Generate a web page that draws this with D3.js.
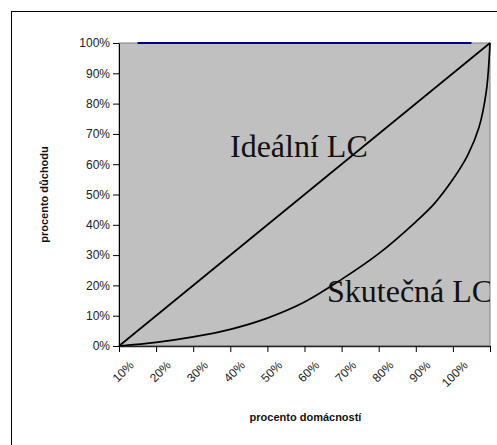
<!DOCTYPE html>
<html>
<head>
<meta charset="utf-8">
<script src="https://cdn.jsdelivr.net/npm/d3@7"></script>
<style>
  body { margin: 0; background: #fff; }
  svg { display: block; }
  .axis text { font-family: Arial, "Liberation Sans", sans-serif; font-size: 12px; fill: #222; }
  .title { font-family: Arial, "Liberation Sans", sans-serif; font-size: 11px; font-weight: bold; fill: #111; }
  .note { font-family: "Times New Roman", "Liberation Serif", serif; font-size: 32px; fill: #111; }
</style>
</head>
<body>
<svg id="chart" width="497" height="445"></svg>
<script>
// categories on the x axis (households) and the flat series at 100 %
const categories = ['10%', '20%', '30%', '40%', '50%', '60%', '70%', '80%', '90%', '100%'];
const topSeries = [1, 1, 1, 1, 1, 1, 1, 1, 1, 1];
const yTicks = [0, 0.1, 0.2, 0.3, 0.4, 0.5, 0.6, 0.7, 0.8, 0.9, 1];
const xTicks = [0, 0.1, 0.2, 0.3, 0.4, 0.5, 0.6, 0.7, 0.8, 0.9, 1];

// ideal Lorenz curve (equality line)
const idealX = [0, 1];
const idealY = [0, 1];

const actualX = [0, 0.1, 0.2, 0.3, 0.4, 0.5, 0.6, 0.7, 0.8, 0.85, 0.9, 0.94, 0.97, 0.99, 1];
const actualY = [0, 0.012, 0.03, 0.055, 0.092, 0.145, 0.22, 0.305, 0.41, 0.47, 0.55, 0.63, 0.72, 0.84, 1];

const svg = d3.select('#chart');
const plot = {left: 119, right: 490, top: 43, bottom: 346};

const x = d3.scaleLinear().domain([0, 1]).range([plot.left, plot.right]);
const xBand = d3.scaleBand().domain(categories).range([plot.left, plot.right]);
const y = d3.scaleLinear().domain([0, 1]).range([plot.bottom, plot.top]);

// chart area frame (right and bottom edges fall outside the picture)
svg.append('rect')
    .attr('x', 11.5).attr('y', 11.5)
    .attr('width', 600).attr('height', 600)
    .attr('fill', 'none').attr('stroke', '#000');

// plot area
svg.append('rect')
    .attr('x', plot.left).attr('y', plot.top)
    .attr('width', plot.right - plot.left).attr('height', plot.bottom - plot.top)
    .attr('fill', '#c0c0c0').attr('stroke', '#808080');

svg.append('clipPath').attr('id', 'clip')
  .append('rect')
    .attr('x', plot.left).attr('y', plot.top - 2)
    .attr('width', plot.right - plot.left).attr('height', plot.bottom - plot.top + 4);

// y axis
const yAxis = svg.append('g')
    .attr('class', 'axis')
    .attr('transform', `translate(${plot.left},0)`)
    .call(d3.axisLeft(y).tickValues(yTicks).tickFormat(d3.format('.0%')).tickSize(6).tickSizeOuter(0));
yAxis.select('.domain').attr('stroke', '#000');
yAxis.selectAll('.tick line').attr('stroke', '#000');
yAxis.selectAll('.tick text').attr('x', -9);

// x axis: ticks on category boundaries, labels in the middle of each category
const xAxis = svg.append('g')
    .attr('class', 'axis')
    .attr('transform', `translate(0,${plot.bottom})`)
    .call(d3.axisBottom(x).tickValues(xTicks).tickFormat('').tickSize(6).tickSizeOuter(0));
xAxis.select('.domain').attr('stroke', '#222').attr('stroke-width', 1.5);
xAxis.selectAll('.tick line').attr('stroke', '#000');

svg.append('g')
    .attr('class', 'axis')
  .selectAll('text')
  .data(categories)
  .join('text')
    .attr('text-anchor', 'end')
    .attr('transform', d => `translate(${xBand(d) + xBand.bandwidth() / 2 - 3},${plot.bottom + 20}) rotate(-45)`)
    .text(d => d);

// flat series at 100 %
const topLine = d3.line()
    .x((d, i) => xBand(categories[i]) + xBand.bandwidth() / 2)
    .y(d => y(d));
svg.append('path')
    .attr('d', topLine(topSeries))
    .attr('fill', 'none')
    .attr('stroke', '#000080')
    .attr('stroke-width', 2);

// Lorenz curves
const curve = d3.line()
    .x(d => x(d[0]))
    .y(d => y(d[1]))
    .curve(d3.curveCatmullRom.alpha(0.5));

svg.append('path')
    .attr('d', curve(d3.zip(idealX, idealY)))
    .attr('fill', 'none')
    .attr('stroke', '#000')
    .attr('stroke-width', 1.7);

svg.append('path')
    .attr('d', curve(d3.zip(actualX, actualY)))
    .attr('fill', 'none')
    .attr('stroke', '#000')
    .attr('stroke-width', 1.7);

// labels inside the plot
const notes = svg.append('g').attr('clip-path', 'url(#clip)');
notes.append('text').attr('class', 'note')
    .attr('x', 230).attr('y', 157)
    .text('Ideální LC');
notes.append('text').attr('class', 'note')
    .attr('x', 327).attr('y', 302)
    .text('Skutečná LC');

// axis titles
svg.append('text').attr('class', 'title')
    .attr('text-anchor', 'middle')
    .attr('transform', `translate(48,${(plot.top + plot.bottom) / 2}) rotate(-90)`)
    .text('procento důchodu');
svg.append('text').attr('class', 'title')
    .attr('text-anchor', 'middle')
    .attr('x', (plot.left + plot.right) / 2 + 1)
    .attr('y', 421)
    .text('procento domácností');
</script>
</body>
</html>
